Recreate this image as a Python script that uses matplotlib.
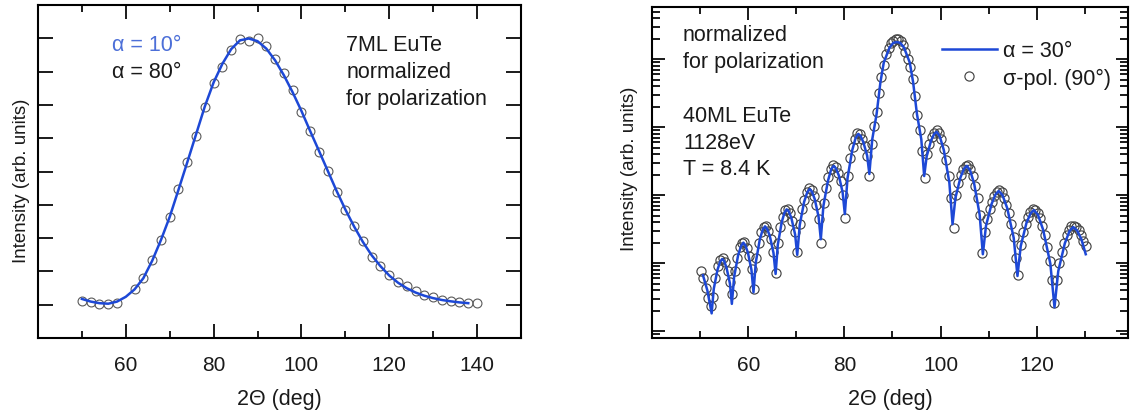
import numpy as np
import matplotlib
matplotlib.use("Agg")
import matplotlib.pyplot as plt
from matplotlib.ticker import MultipleLocator, FixedLocator, LogLocator, NullFormatter

plt.rcParams['font.family'] = ['Liberation Sans', 'DejaVu Sans']
plt.rcParams['font.size'] = 15.5

# ---- left panel: 7ML EuTe, normalized intensity vs 2Theta
fit7_deg = [50, 52, 54, 56, 58, 60, 62, 64, 66, 68, 70, 72, 74, 76, 78, 80, 82, 84,
            86, 88, 90, 92, 94, 96, 98, 100, 102, 104, 106, 108, 110, 112, 114, 116,
            118, 120, 122, 124, 126, 128, 130, 132, 134, 136, 138]
fit7_int = [0.022, 0.012, 0.006, 0.004, 0.012, 0.03, 0.058, 0.10, 0.165, 0.243, 0.33,
            0.432, 0.535, 0.64, 0.745, 0.835, 0.905, 0.96, 0.993, 1.0, 0.99, 0.962,
            0.918, 0.862, 0.798, 0.728, 0.652, 0.578, 0.503, 0.428, 0.358, 0.294,
            0.236, 0.186, 0.145, 0.11, 0.083, 0.062, 0.046, 0.034, 0.025, 0.018,
            0.013, 0.009, 0.006]
pts7_deg = [50, 52, 54, 56, 58, 62, 64, 66, 68, 70, 72, 74, 76, 78, 80, 82, 84, 86,
            88, 90, 92, 94, 96, 98, 100, 102, 104, 106, 108, 110, 112, 114, 116, 118,
            120, 122, 124, 126, 128, 130, 132, 134, 136, 138, 140]
pts7_int = [0.016, 0.01, 0.004, 0.004, 0.006, 0.06, 0.10, 0.169, 0.244, 0.331, 0.435,
            0.535, 0.635, 0.744, 0.831, 0.894, 0.956, 0.998, 0.99, 1.0, 0.971, 0.923,
            0.869, 0.806, 0.725, 0.653, 0.573, 0.503, 0.425, 0.356, 0.294, 0.238,
            0.178, 0.144, 0.113, 0.085, 0.069, 0.05, 0.0375, 0.0275, 0.019, 0.015,
            0.01, 0.006, 0.006]

# ---- right panel: 40ML EuTe, log10 of intensity
a30_deg = [50.6, 51.5, 52.4, 52.84, 53.61, 54.16, 54.6, 55.0, 55.5, 56.2, 56.6,
           57.08, 57.92, 58.52, 59.0, 59.42, 59.95, 60.68, 61.1, 61.58, 62.42, 63.02,
           63.5, 63.94, 64.49, 65.26, 65.7, 66.16, 66.97, 67.54, 68.0, 68.44, 68.99,
           69.76, 70.2, 70.72, 71.63, 72.28, 72.8, 73.26, 73.84, 74.64, 75.1, 75.64,
           76.59, 77.26, 77.8, 78.26, 78.84, 79.64, 80.1, 80.66, 81.64, 82.34, 82.9,
           83.36, 83.94, 84.74, 85.2, 85.8, 86.7, 87.5, 88.2, 89.4, 90.2, 90.9, 91.6,
           92.4, 93.6, 94.3, 95.1, 96.0, 96.6, 97.12, 98.03, 98.68, 99.2, 99.86,
           100.69, 101.84, 102.5, 103.1, 104.15, 104.9, 105.5, 106.16, 106.99,
           108.14, 108.8, 109.46, 110.62, 111.44, 112.1, 112.88, 113.86, 115.22,
           116.0, 116.68, 117.87, 118.72, 119.4, 120.26, 121.34, 122.84, 123.7,
           124.48, 125.85, 126.82, 127.6, 128.4, 129.3, 130.2]
a30_log = [-3.18, -3.40, -3.74, -3.38, -3.10, -2.98, -2.94, -2.97, -3.07, -3.30, -3.60,
           -3.20, -2.88, -2.75, -2.70, -2.74, -2.85, -3.10, -3.43, -2.99, -2.65, -2.51,
           -2.46, -2.50, -2.60, -2.85, -3.16, -2.73, -2.40, -2.26, -2.21, -2.24, -2.34,
           -2.58, -2.88, -2.44, -2.10, -1.96, -1.91, -1.95, -2.06, -2.32, -2.65, -2.16,
           -1.79, -1.62, -1.57, -1.61, -1.71, -1.96, -2.28, -1.75, -1.34, -1.16, -1.10,
           -1.13, -1.22, -1.42, -1.69, -1.18, -0.81, -0.34, -0.05, 0.17, 0.24, 0.25, 0.24,
           0.17, -0.05, -0.34, -0.81, -1.18, -1.72, -1.43, -1.20, -1.10, -1.07, -1.14,
           -1.34, -1.82, -2.43, -2.04, -1.74, -1.61, -1.57, -1.64, -1.83,
           -2.29, -2.87, -2.45, -2.13, -1.99, -1.94, -2.00, -2.19, -2.63,
           -3.19, -2.75, -2.41, -2.27, -2.22, -2.29, -2.51, -3.01, -3.65,
           -3.12, -2.71, -2.53, -2.47, -2.52, -2.65, -2.87]

sig_deg = [50.2, 50.7, 51.2, 51.7, 52.2, 52.7, 53.2, 53.7, 54.2, 54.7,
           55.2, 55.7, 56.2, 56.7, 57.2, 57.7, 58.2, 58.7, 59.2, 59.7,
           60.2, 60.7, 61.2, 61.7, 62.2, 62.7, 63.2, 63.7, 64.2, 64.7,
           65.2, 65.7, 66.2, 66.7, 67.2, 67.7, 68.2, 68.7, 69.2, 69.7,
           70.2, 70.7, 71.2, 71.7, 72.2, 72.7, 73.2, 73.7, 74.2, 74.7,
           75.2, 75.7, 76.2, 76.7, 77.2, 77.7, 78.2, 78.7, 79.2, 79.7,
           80.2, 80.7, 81.2, 81.7, 82.2, 82.7, 83.2, 83.7, 84.2, 84.7,
           85.2, 85.7, 86.2, 86.7, 87.2, 87.7, 88.2, 88.7, 89.2, 89.7,
           90.2, 90.7, 91.2, 91.7, 92.2, 92.7, 93.2, 93.7, 94.2, 94.7,
           95.2, 95.7, 96.2, 96.7, 97.2, 97.7, 98.2, 98.7, 99.2, 99.7,
           100.2, 100.7, 101.2, 101.7, 102.2, 102.7, 103.2, 103.7, 104.2, 104.7,
           105.2, 105.7, 106.2, 106.7, 107.2, 107.7, 108.2, 108.7, 109.2, 109.7,
           110.2, 110.7, 111.2, 111.7, 112.2, 112.7, 113.2, 113.7, 114.2, 114.7,
           115.2, 115.7, 116.2, 116.7, 117.2, 117.7, 118.2, 118.7, 119.2, 119.7,
           120.2, 120.7, 121.2, 121.7, 122.2, 122.7, 123.2, 123.7, 124.2, 124.7,
           125.2, 125.7, 126.2, 126.7, 127.2, 127.7, 128.2, 128.7, 129.2, 129.7,
           130.2]
sig_log = [-3.12, -3.22, -3.36, -3.52, -3.63, -3.50, -3.22, -3.05, -2.96, -2.92,
           -2.98, -3.12, -3.28, -3.46, -3.12, -2.92, -2.77, -2.70, -2.69, -2.78,
           -2.90, -3.08, -3.38, -2.93, -2.70, -2.55, -2.47, -2.46, -2.53, -2.65,
           -2.83, -3.14, -2.70, -2.47, -2.32, -2.22, -2.20, -2.27, -2.38, -2.55,
           -2.84, -2.42, -2.21, -2.07, -1.96, -1.90, -1.93, -2.02, -2.15, -2.35,
           -2.71, -2.12, -1.90, -1.74, -1.62, -1.56, -1.58, -1.67, -1.80, -2.00,
           -2.34, -1.72, -1.46, -1.30, -1.17, -1.09, -1.10, -1.17, -1.28, -1.42,
           -1.72, -1.25, -0.98, -0.78, -0.50, -0.27, -0.08, 0.07, 0.17, 0.24,
           0.27, 0.29, 0.29, 0.26, 0.20, 0.10, 0.00, -0.12, -0.30, -0.55,
           -0.82, -1.05, -1.35, -1.75, -1.40, -1.25, -1.15, -1.08, -1.05, -1.09,
           -1.18, -1.32, -1.48, -1.72, -2.05, -2.49, -2.00, -1.82, -1.70, -1.62,
           -1.57, -1.56, -1.62, -1.72, -1.86, -2.05, -2.30, -2.85, -2.55, -2.35,
           -2.20, -2.10, -2.01, -1.96, -1.93, -1.96, -2.04, -2.14, -2.27, -2.43,
           -2.62, -2.92, -3.18, -2.74, -2.55, -2.42, -2.32, -2.25, -2.21, -2.22,
           -2.26, -2.34, -2.45, -2.59, -2.76, -2.97, -3.25, -3.58, -3.25, -3.00,
           -2.84, -2.70, -2.59, -2.51, -2.46, -2.45, -2.47, -2.52, -2.59, -2.67,
           -2.75]

left_xticks = [60, 80, 100, 120, 140]
right_xticks = [60, 80, 100, 120]

blue = '#1d48d6'
txt = '#1a1a1a'
circ_l = dict(marker='o', ms=6.4, mfc='none', mec='#5a5a5a', mew=0.8, ls='none')
circ_r = dict(marker='o', ms=6.6, mfc='none', mec='#444444', mew=0.85, ls='none')

fig = plt.figure(figsize=(11.31, 4.14), dpi=100)
ax1 = fig.add_axes([0.0336, 0.181, 0.427, 0.804])
ax2 = fig.add_axes([0.5765, 0.181, 0.4209, 0.7995])

for ax, xt in ((ax1, left_xticks), (ax2, right_xticks)):
    for s in ax.spines.values():
        s.set_linewidth(1.5)
    ax.tick_params(which='both', direction='in', top=True, right=True,
                   width=1.4, colors=txt, labelsize=15)
    ax.tick_params(axis='x', which='major', pad=12)
    ax.xaxis.set_major_locator(FixedLocator(xt))
    ax.xaxis.set_minor_locator(MultipleLocator(10))
    ax.set_xlabel('2Θ (deg)', color=txt, labelpad=10)

# left
ax1.plot(pts7_deg, pts7_int, zorder=2, **circ_l)
ax1.plot(fit7_deg, fit7_int, color=blue, lw=1.8, zorder=3)
ax1.set_xlim(40, 150)
ax1.set_ylim(-0.125, 1.125)
ax1.yaxis.set_major_locator(MultipleLocator(0.125))
ax1.tick_params(axis='y', which='major', length=11, labelleft=False)
ax1.tick_params(axis='x', which='major', length=10)
ax1.tick_params(axis='x', which='minor', length=5)
ax1.set_ylabel('Intensity (arb. units)', color=txt, fontsize=13.5)
ax1.yaxis.set_label_coords(-0.017, 0.474)
ax1.text(0.153, 0.883, 'α = 10°', transform=ax1.transAxes, color='#4c6fd8', va='center')
ax1.text(0.153, 0.802, 'α = 80°', transform=ax1.transAxes, color=txt, va='center')
ax1.text(0.638, 0.883, '7ML EuTe', transform=ax1.transAxes, color=txt, va='center')
ax1.text(0.638, 0.802, 'normalized', transform=ax1.transAxes, color=txt, va='center')
ax1.text(0.638, 0.721, 'for polarization', transform=ax1.transAxes, color=txt, va='center')

# right
sig_val = [10 ** v for v in sig_log]
a30_val = [10 ** v for v in a30_log]
h2, = ax2.plot(sig_deg, sig_val, zorder=2, **circ_r)
h1, = ax2.plot(a30_deg, a30_val, color=blue, lw=1.8, zorder=3)
ax2.set_yscale('log')
ax2.set_xlim(40, 139)
ax2.set_ylim(10 ** -4.103, 10 ** 0.765)
ax2.yaxis.set_major_locator(LogLocator(base=10, numticks=20))
ax2.yaxis.set_minor_locator(LogLocator(base=10, subs=np.arange(2, 10), numticks=20))
ax2.yaxis.set_major_formatter(NullFormatter())
ax2.yaxis.set_minor_formatter(NullFormatter())
ax2.tick_params(axis='y', which='major', length=9)
ax2.tick_params(axis='y', which='minor', length=5.5)
ax2.tick_params(axis='x', which='major', length=9)
ax2.tick_params(axis='x', which='minor', length=5)
ax2.set_ylabel('Intensity (arb. units)', color=txt, fontsize=13.5)
ax2.yaxis.set_label_coords(-0.029, 0.514)
ax2.text(0.065, 0.918, 'normalized', transform=ax2.transAxes, color=txt, va='center')
ax2.text(0.065, 0.836, 'for polarization', transform=ax2.transAxes, color=txt, va='center')
ax2.text(0.065, 0.671, '40ML EuTe', transform=ax2.transAxes, color=txt, va='center')
ax2.text(0.065, 0.592, '1128eV', transform=ax2.transAxes, color=txt, va='center')
ax2.text(0.065, 0.511, 'T = 8.4 K', transform=ax2.transAxes, color=txt, va='center')
leg = ax2.legend([h1, h2], ['α = 30°', 'σ-pol. (90°)'], loc='upper left',
                 bbox_to_anchor=(0.609, 0.9), frameon=False, borderpad=0,
                 borderaxespad=0, handlelength=2.55, handletextpad=0.28,
                 labelspacing=0.3, numpoints=1, fontsize=15.5)
for t in leg.get_texts():
    t.set_color(txt)

fig.savefig('out.png', dpi=100)
